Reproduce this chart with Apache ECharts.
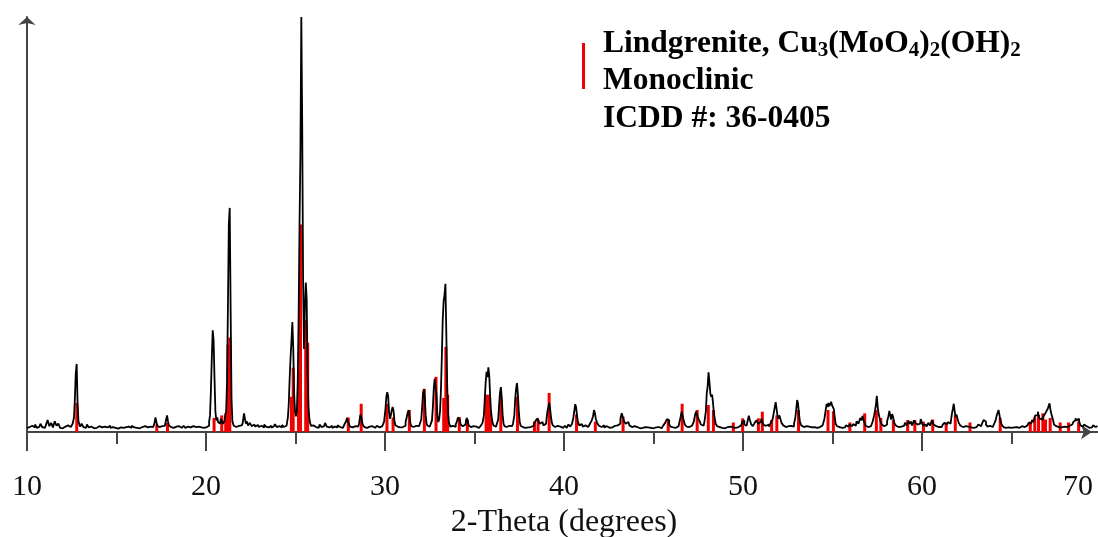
<!DOCTYPE html>
<html><head><meta charset="utf-8">
<script src="https://cdn.jsdelivr.net/npm/echarts@6/dist/echarts.min.js"></script>
<style>html,body{margin:0;padding:0;background:#fff;overflow:hidden}#c{width:1098px;height:537px}</style>
</head><body><div id="c"></div>
<script>
// Measured XRD scan (2-theta, relative intensity)
const scan = [
[10.0,1.0],[10.1,1.2],[10.2,0.9],[10.3,1.5],[10.4,1.1],[10.5,1.8],[10.6,1.0],[10.7,1.3],[10.8,2.0],[10.9,1.2],[11.0,1.0],[11.1,1.6],[11.2,2.9],[11.3,1.4],[11.4,2.2],[11.5,1.1],[11.6,2.6],[11.7,1.5],[11.8,2.0],[11.9,1.0],[12.0,0.9],[12.1,1.3],[12.2,1.0],[12.3,1.6],[12.4,1.2],[12.5,1.4],[12.6,2.0],[12.65,3.5],[12.7,8.0],[12.75,14.2],[12.8,16.4],[12.85,7.0],[12.9,2.6],[12.95,1.8],[13.0,1.3],[13.1,2.0],[13.2,1.2],[13.3,1.0],[13.4,1.8],[13.5,1.1],[13.6,1.3],[13.7,0.9],[13.8,1.2],[13.9,1.0],[14.0,1.4],[14.1,1.0],[14.2,1.1],[14.3,1.3],[14.4,0.9],[14.5,1.1],[14.6,1.5],[14.7,1.0],[14.8,1.2],[14.9,1.0],[15.0,1.3],[15.1,0.8],[15.2,1.1],[15.3,1.4],[15.4,1.0],[15.5,1.2],[15.6,0.9],[15.7,1.3],[15.8,1.0],[15.9,1.5],[16.0,1.1],[16.1,1.0],[16.2,1.3],[16.3,0.9],[16.4,1.2],[16.5,1.0],[16.6,1.4],[16.7,1.1],[16.8,1.0],[16.9,1.3],[17.0,1.2],[17.1,1.4],[17.15,2.2],[17.2,3.5],[17.25,3.2],[17.3,1.5],[17.4,1.2],[17.5,1.4],[17.6,1.1],[17.7,1.5],[17.75,2.0],[17.8,3.0],[17.85,4.0],[17.9,2.6],[17.95,1.6],[18.0,1.2],[18.1,1.5],[18.2,1.0],[18.3,1.3],[18.4,1.1],[18.5,1.4],[18.6,1.0],[18.7,1.2],[18.8,1.5],[18.9,1.0],[19.0,1.3],[19.1,1.1],[19.2,1.0],[19.3,1.4],[19.4,1.2],[19.5,1.0],[19.6,1.3],[19.7,1.1],[19.8,1.5],[19.9,1.0],
[20.0,1.2],[20.1,1.1],[20.15,1.5],[20.2,2.5],[20.25,4.0],[20.3,10.0],[20.35,18.0],[20.4,24.5],[20.45,22.0],[20.5,13.0],[20.55,5.0],[20.6,2.8],[20.65,3.5],[20.7,2.4],[20.8,2.0],[20.85,3.2],[20.9,2.6],[21.0,2.0],[21.05,2.6],[21.1,3.0],[21.15,5.0],[21.2,12.0],[21.25,30.0],[21.3,50.0],[21.35,54.0],[21.4,30.0],[21.45,8.0],[21.5,2.5],[21.6,1.5],[21.7,1.2],[21.8,1.5],[21.9,1.1],[22.0,1.6],[22.1,2.2],[22.15,4.5],[22.2,3.2],[22.25,2.0],[22.3,2.6],[22.4,1.6],[22.5,2.2],[22.6,1.4],[22.7,1.8],[22.8,1.3],[22.9,1.7],[23.0,1.2],[23.1,1.5],[23.2,1.1],[23.3,1.8],[23.4,1.3],[23.5,1.1],[23.6,1.5],[23.7,1.0],[23.8,1.4],[23.9,1.9],[24.0,1.2],[24.1,1.4],[24.2,1.1],[24.3,1.7],[24.4,1.2],[24.5,1.5],[24.55,2.2],[24.6,3.5],[24.65,7.0],[24.7,13.0],[24.75,18.0],[24.8,22.0],[24.85,26.5],[24.9,20.0],[24.95,9.0],[25.0,5.0],[25.05,3.8],[25.1,5.0],[25.15,12.0],[25.2,28.0],[25.25,50.0],[25.3,67.0],[25.35,100.0],[25.4,74.0],[25.45,36.0],[25.5,20.0],[25.55,30.0],[25.6,36.0],[25.65,32.0],[25.7,14.0],[25.75,6.0],[25.8,3.2],[25.85,2.0],[25.9,1.5],
[26.0,1.6],[26.1,1.2],[26.2,1.5],[26.3,1.0],[26.4,1.8],[26.5,1.2],[26.6,1.4],[26.7,2.2],[26.8,1.3],[26.9,1.1],[27.0,1.5],[27.1,1.0],[27.2,1.3],[27.3,1.1],[27.4,1.6],[27.5,1.2],[27.6,1.0],[27.7,1.4],[27.8,2.0],[27.85,2.6],[27.9,3.4],[27.95,3.0],[28.0,2.0],[28.1,1.3],[28.2,1.1],[28.3,1.4],[28.4,1.0],[28.5,1.3],[28.6,2.0],[28.65,4.2],[28.7,3.5],[28.8,1.8],[28.9,1.2],[29.0,1.0],[29.1,1.3],[29.2,1.1],[29.3,1.4],[29.4,1.0],[29.5,1.2],[29.6,1.5],[29.7,1.1],[29.8,1.4],
[29.9,1.6],[30.0,2.5],[30.05,5.5],[30.1,8.5],[30.15,9.6],[30.2,8.6],[30.25,5.0],[30.3,3.2],[30.35,4.0],[30.4,5.2],[30.45,6.0],[30.5,5.2],[30.55,2.8],[30.6,1.7],[30.7,1.3],[30.8,1.1],[30.9,1.4],[31.0,1.2],[31.1,1.5],[31.2,2.4],[31.25,3.8],[31.3,4.8],[31.35,5.3],[31.4,3.6],[31.45,2.0],[31.5,1.4],[31.6,1.2],[31.7,1.5],[31.8,1.1],[31.9,1.4],[32.0,1.8],[32.05,3.0],[32.1,6.0],[32.15,9.5],[32.2,10.3],[32.25,8.0],[32.3,4.0],[32.35,2.0],[32.4,1.5],[32.5,1.3],[32.6,1.7],[32.65,2.8],[32.7,6.0],[32.75,10.5],[32.8,12.8],[32.85,13.2],[32.9,9.0],[32.95,4.0],[33.0,2.4],[33.05,3.0],[33.1,5.0],[33.15,10.0],[33.2,18.0],[33.25,27.0],[33.3,31.5],[33.35,33.0],[33.4,35.7],[33.45,24.0],[33.5,11.0],[33.55,4.5],[33.6,2.2],
[33.7,1.3],[33.8,1.5],[33.9,1.2],[34.0,1.8],[34.05,2.6],[34.1,3.5],[34.15,3.9],[34.2,3.0],[34.25,1.8],[34.3,1.4],[34.4,1.2],[34.5,1.8],[34.55,2.8],[34.6,3.4],[34.65,2.6],[34.7,1.6],[34.8,1.2],[34.9,1.4],[35.0,1.1],[35.1,1.3],[35.2,1.0],[35.3,1.2],[35.4,1.5],[35.5,2.2],[35.55,4.0],[35.6,8.0],[35.65,12.0],[35.7,14.5],[35.75,13.2],[35.8,15.6],[35.85,13.5],[35.9,8.5],[35.95,4.8],[36.0,3.0],[36.05,2.0],[36.1,1.5],[36.2,1.3],[36.3,1.6],[36.35,3.0],[36.4,6.5],[36.45,9.5],[36.5,10.8],[36.55,8.0],[36.6,4.0],[36.65,2.0],[36.7,1.4],[36.8,1.2],[36.9,1.5],[37.0,1.2],[37.1,1.4],[37.2,2.0],[37.25,4.0],[37.3,8.0],[37.35,10.5],[37.4,11.8],[37.45,9.0],[37.5,5.0],[37.55,2.5],[37.6,1.5],[37.7,1.2],[37.8,1.0],[37.9,1.3],[38.0,1.1],[38.1,1.2],[38.2,1.0],[38.3,1.5],[38.4,2.2],[38.45,2.8],[38.5,2.4],[38.55,3.3],[38.6,2.6],[38.7,2.0],[38.8,2.4],[38.9,1.6],[39.0,2.0],[39.05,3.2],[39.1,5.0],[39.15,6.0],[39.2,7.0],[39.25,5.5],[39.3,3.6],[39.35,2.2],[39.4,1.6],[39.5,1.2],[39.6,1.5],[39.7,1.1],[39.8,1.3],[39.9,1.0],
[40.0,1.2],[40.1,1.5],[40.2,1.0],[40.3,1.8],[40.4,1.3],[40.5,2.0],[40.55,3.5],[40.6,5.0],[40.65,6.7],[40.7,6.0],[40.75,4.0],[40.8,2.5],[40.9,1.6],[41.0,1.9],[41.1,1.3],[41.2,1.6],[41.3,1.2],[41.4,1.5],[41.5,2.0],[41.6,2.8],[41.65,3.8],[41.7,5.3],[41.75,4.6],[41.8,3.2],[41.9,2.2],[42.0,1.5],[42.1,1.2],[42.2,1.6],[42.3,1.1],[42.4,1.4],[42.5,1.0],[42.6,1.3],[42.7,1.1],[42.8,1.5],[42.9,1.2],[43.0,1.6],[43.1,2.0],[43.2,3.2],[43.25,4.5],[43.3,3.8],[43.4,2.6],[43.5,2.0],[43.6,2.4],[43.7,1.6],[43.8,1.2],[43.9,1.4],[44.0,1.0],[44.1,1.2],[44.2,0.9],[44.3,1.1],[44.4,1.0],[44.5,1.2],[44.6,0.9],[44.7,1.1],[44.8,1.0],[44.9,1.2],[45.0,0.9],[45.1,1.1],[45.2,1.0],[45.3,1.2],[45.4,0.9],[45.5,1.3],[45.6,1.6],[45.7,2.2],[45.8,3.1],[45.85,2.8],[45.9,1.8],[46.0,1.3],[46.1,1.1],[46.2,1.0],[46.3,1.2],[46.4,1.4],[46.5,2.4],[46.55,3.8],[46.6,4.9],[46.65,4.6],[46.7,3.0],[46.8,1.8],[46.9,1.3],[47.0,1.2],[47.1,1.5],[47.2,1.3],[47.3,2.5],[47.35,4.2],[47.4,4.9],[47.45,4.3],[47.5,3.5],[47.55,3.8],[47.6,2.6],[47.7,1.8],[47.8,1.5],[47.9,2.6],[47.95,5.0],[48.0,9.3],[48.05,11.0],[48.1,14.4],[48.15,12.0],[48.2,9.3],[48.25,8.5],[48.3,9.0],[48.35,7.0],[48.4,4.5],[48.45,3.2],[48.5,2.0],[48.6,1.4],[48.7,1.2],[48.8,1.0],[48.9,1.1],[49.0,0.9],[49.1,1.2],[49.2,1.0],[49.3,1.3],[49.4,1.1],[49.5,1.4],[49.6,1.0],[49.7,1.2],[49.8,1.0],[49.9,1.6],
[50.0,2.4],[50.05,2.8],[50.1,1.8],[50.2,1.5],[50.3,2.5],[50.35,3.9],[50.4,3.0],[50.5,1.9],[50.6,1.4],[50.7,2.2],[50.8,2.8],[50.9,2.0],[51.0,2.4],[51.05,3.2],[51.1,2.6],[51.2,1.7],[51.3,1.5],[51.4,1.8],[51.5,1.3],[51.6,2.2],[51.7,3.0],[51.75,4.8],[51.8,6.0],[51.85,7.2],[51.9,5.6],[51.95,4.0],[52.0,3.2],[52.05,4.0],[52.1,3.4],[52.2,2.2],[52.3,1.6],[52.4,1.2],[52.5,1.4],[52.6,1.1],[52.7,1.5],[52.8,1.3],[52.9,2.0],[52.95,3.5],[53.0,5.5],[53.05,7.7],[53.1,6.8],[53.15,4.5],[53.2,2.6],[53.3,1.6],[53.4,1.2],[53.5,1.4],[53.6,1.0],[53.7,1.3],[53.8,1.1],[53.9,1.5],[54.0,1.2],[54.1,1.0],[54.2,1.4],[54.3,1.2],[54.4,1.6],[54.5,2.0],[54.6,3.2],[54.65,5.5],[54.7,6.8],[54.75,6.0],[54.8,7.0],[54.85,6.2],[54.9,6.6],[54.95,7.3],[55.0,6.4],[55.05,6.8],[55.1,5.5],[55.15,3.5],[55.2,2.0],[55.3,1.4],[55.4,1.2],[55.5,1.0],[55.6,1.3],[55.7,1.1],[55.8,1.6],[55.9,1.3],[56.0,1.8],[56.1,1.4],[56.2,1.9],[56.3,1.5],[56.4,2.6],[56.5,2.0],[56.6,3.4],[56.65,2.8],[56.7,3.9],[56.75,3.0],[56.8,2.4],[56.9,1.5],[57.0,1.2],[57.1,1.4],[57.2,1.7],[57.3,2.6],[57.35,4.0],[57.4,5.2],[57.45,6.5],[57.5,8.7],[57.55,6.0],[57.6,4.5],[57.65,3.5],[57.7,2.6],[57.8,1.8],[57.9,1.4],[58.0,1.8],[58.1,2.6],[58.15,3.8],[58.2,5.1],[58.25,4.0],[58.3,3.0],[58.35,4.3],[58.4,3.8],[58.5,2.2],[58.6,1.5],[58.7,1.2],[58.8,1.3],[58.9,1.1],[59.0,1.5],[59.1,2.2],[59.2,1.6],[59.3,2.6],[59.35,2.0],[59.4,2.5],[59.5,1.6],[59.6,2.8],[59.65,2.2],[59.7,1.8],[59.8,1.4],[59.9,2.0],[59.95,3.1],
[60.0,2.5],[60.1,1.6],[60.2,1.8],[60.3,1.3],[60.4,2.2],[60.5,1.6],[60.6,2.8],[60.7,1.8],[60.8,1.4],[60.9,1.2],[61.0,1.5],[61.1,1.2],[61.2,1.7],[61.3,2.2],[61.4,1.8],[61.5,2.4],[61.6,2.0],[61.65,3.0],[61.7,4.5],[61.75,5.6],[61.8,6.8],[61.85,5.0],[61.9,3.6],[61.95,4.2],[62.0,3.4],[62.1,2.2],[62.2,1.5],[62.3,1.2],[62.4,1.4],[62.5,1.0],[62.6,1.3],[62.7,1.1],[62.8,1.4],[62.9,1.0],[63.0,1.2],[63.1,1.5],[63.2,1.8],[63.3,1.4],[63.4,2.0],[63.5,2.9],[63.55,2.5],[63.6,1.8],[63.7,1.3],[63.8,1.5],[63.9,1.2],[64.0,1.6],[64.1,2.2],[64.15,3.0],[64.2,4.0],[64.25,4.6],[64.3,5.3],[64.35,4.2],[64.4,2.8],[64.5,1.8],[64.6,1.2],[64.7,1.0],[64.8,1.1],[64.9,0.9],[65.0,1.0],[65.1,1.1],[65.2,0.9],[65.3,1.2],[65.4,1.0],[65.5,1.1],[65.6,1.4],[65.7,1.2],[65.8,1.6],[65.9,1.6],
[66.0,2.2],[66.1,2.0],[66.2,2.9],[66.25,2.4],[66.3,3.2],[66.35,4.0],[66.4,4.4],[66.45,4.0],[66.5,4.9],[66.55,3.8],[66.6,3.2],[66.65,3.6],[66.7,3.0],[66.8,3.5],[66.9,4.2],[66.95,4.8],[67.0,5.2],[67.05,5.6],[67.1,6.0],[67.15,6.9],[67.2,5.4],[67.25,4.4],[67.3,3.6],[67.35,2.8],[67.4,1.8],[67.5,1.4],[67.6,1.2],[67.7,1.0],[67.8,1.1],[67.9,1.3],[68.0,1.0],[68.1,1.2],[68.2,1.5],[68.3,1.3],[68.4,1.8],[68.5,2.4],[68.55,2.8],[68.6,3.3],[68.65,2.8],[68.7,2.4],[68.75,3.2],[68.8,2.6],[68.9,1.6],[69.0,1.3],[69.1,1.8],[69.2,1.4],[69.3,1.0],[69.4,1.3],[69.5,1.1],[69.6,1.6],[69.7,1.2],[69.8,1.4]
];

// ICDD 36-0405 reference lines (2-theta, relative intensity)
const refTheta = [12.78,17.25,17.85,20.45,20.88,21.1,21.23,21.33,24.77,24.87,25.17,25.28,25.57,25.68,27.95,28.67,30.11,30.45,31.36,32.2,32.85,33.28,33.4,33.5,34.15,34.6,35.65,35.78,35.9,36.47,37.4,38.35,38.55,39.17,40.7,41.75,43.3,45.82,46.6,47.44,48.06,48.35,49.46,49.98,50.86,51.08,51.6,51.89,53.1,54.75,55.05,55.97,56.8,57.45,57.7,58.4,59.2,59.6,60.08,60.6,61.35,61.86,62.68,64.37,66.05,66.3,66.51,66.75,66.9,67.16,67.72,68.19,68.75];
const refIntensity = [7.0,1.8,2.2,3.4,4.0,4.5,21.0,22.8,8.5,15.5,15.0,50.0,27.0,21.5,3.5,6.8,6.8,3.5,5.3,10.4,13.3,8.2,20.5,9.0,3.6,3.0,9.0,9.0,5.0,8.5,8.5,2.5,3.0,9.4,4.2,2.5,3.7,2.9,6.8,5.3,6.5,5.3,2.3,3.3,3.3,4.9,2.9,4.0,5.3,5.3,5.0,2.3,4.5,5.3,3.4,2.9,2.9,2.9,2.5,3.0,2.3,4.1,2.3,3.4,2.5,3.5,4.1,4.5,3.0,3.4,2.3,2.3,2.5];

const xTickLabels = [10,20,30,40,50,60,70];
const axisTitle = '2-Theta (degrees)';
const legendLines = ['Lindgrenite, Cu{s|3}(MoO{s|4}){s|2}(OH){s|2}', 'Monoclinic', 'ICDD #: 36-0405'];

const serif = '"Liberation Serif","Times New Roman",serif';
const chart = echarts.init(document.getElementById('c'), null, {renderer: 'canvas', width: 1098, height: 537});
const refData = refTheta.map((t, i) => [t, refIntensity[i]]);

const legendRich = {
  b: {fontFamily: serif, fontWeight: 'bold', fontSize: 31.5, lineHeight: 34, color: '#000'},
  s: {fontFamily: serif, fontWeight: 'bold', fontSize: 21, lineHeight: 24, verticalAlign: 'bottom', color: '#000'}
};
function legendText(str) {
  return str.split(/(\{s\|\d\})/).filter(p => p).map(p => p.startsWith('{s|') ? p : '{b|' + p + '}').join('');
}

chart.setOption({
  animation: false,
  backgroundColor: '#fff',
  grid: {left: 27, right: -3, top: 17, bottom: 105, containLabel: false, outerBoundsMode: 'none'},
  xAxis: {
    type: 'value', min: 10, max: 70, interval: 10,
    name: axisTitle, nameLocation: 'middle', nameGap: 70,
    nameTextStyle: {fontFamily: serif, fontSize: 32, color: '#111'},
    axisLine: {show: true, lineStyle: {color: '#444', width: 2}, symbol: ['none', 'arrow'], symbolSize: [11, 11], symbolOffset: [0, -9]},
    axisTick: {show: true, length: 19, lineStyle: {color: '#444', width: 2}},
    minorTick: {show: true, splitNumber: 2, length: 12, lineStyle: {color: '#444', width: 2}},
    splitLine: {show: false},
    axisLabel: {
      margin: 40, fontFamily: serif, fontSize: 30, color: '#111',
      formatter: v => xTickLabels.indexOf(v) < 0 ? '' : (v === 70 ? '{last|' + v + '}' : String(v)),
      rich: {last: {fontFamily: serif, fontSize: 30, color: '#111', padding: [0, 46, 0, 0]}}
    }
  },
  yAxis: {
    type: 'value', min: 0, max: 100,
    axisLine: {show: true, onZero: false, lineStyle: {color: '#444', width: 2}, symbol: ['none', 'arrow'], symbolSize: [13, 8], symbolOffset: [0, 0]},
    axisTick: {show: false}, axisLabel: {show: false}, splitLine: {show: false}
  },
  series: [
    {type: 'bar', data: refData, barWidth: 3, z: 2, itemStyle: {color: '#f00000'}, silent: true},
    {type: 'line', data: scan, z: 3, step: 'middle', showSymbol: false, symbol: 'none', lineStyle: {color: '#000', width: 1.8}, silent: true}
  ],
  graphic: [
    {type: 'rect', shape: {x: 582, y: 43, width: 3, height: 46}, style: {fill: '#f00000'}},
    {type: 'text', x: 603, y: 27, style: {text: legendText(legendLines[0]), rich: legendRich}},
    {type: 'text', x: 603, y: 64, style: {text: legendText(legendLines[1]), rich: legendRich}},
    {type: 'text', x: 603, y: 102, style: {text: legendText(legendLines[2]), rich: legendRich}}
  ]
});
</script></body></html>
